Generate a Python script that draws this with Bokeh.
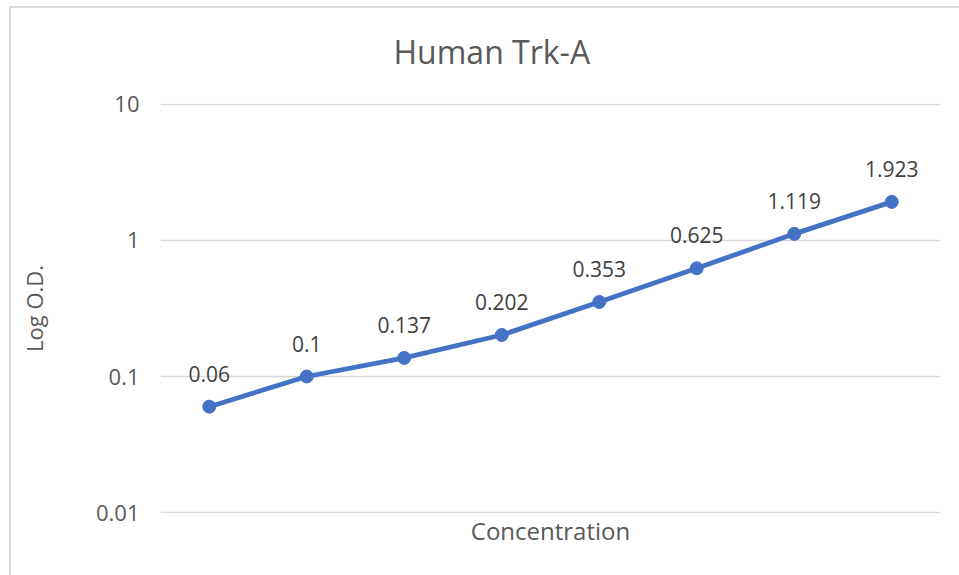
from bokeh.plotting import figure
from bokeh.layouts import column
from bokeh.models import FactorRange, FixedTicker, ColumnDataSource, Range1d
from bokeh.core.properties import value
from bokeh.embed import file_html
from bokeh.resources import INLINE

# ---- data ----
categories = ["1", "2", "3", "4", "5", "6", "7", "8"]
od_values = [0.06, 0.1, 0.137, 0.202, 0.353, 0.625, 1.119, 1.923]
y_ticks = [0.01, 0.1, 1, 10]
y_tick_labels = ["0.01", "0.1", "1", "10"]
title_text = "Human Trk-A"
x_title = "Concentration"
y_title = "Log O.D."

FONT = "Open Sans"
GRID = "#d9d9d9"
TXT = "#595959"
BLUE = "#4472c4"

src = ColumnDataSource(dict(x=categories, y=od_values,
                            lab=[str(v) for v in od_values]))

pad = 1 / 136.33  # one pixel of a decade, so edge gridlines are not clipped
p = figure(width=948, height=578, output_backend="svg", toolbar_location=None,
           x_range=FactorRange(*categories, range_padding=0),
           y_range=Range1d(10 ** (-2 - pad), 10 ** (1 + pad)), y_axis_type="log",
           min_border_left=149, min_border_right=19,
           min_border_top=106, min_border_bottom=62)
p.margin = (-11, 0, 0, 0)
p.outline_line_color = None
p.background_fill_color = "white"
p.border_fill_color = None

p.title.text = title_text
p.title.align = "left"
p.title.offset = 233
p.title.text_font = FONT
p.title.text_font_size = "32px"
p.title.text_font_style = "normal"
p.title.text_color = TXT
p.title.standoff = 61

# grid
p.xgrid.grid_line_color = None
p.ygrid.grid_line_color = GRID
p.ygrid.grid_line_width = 1.5
p.ygrid.minor_grid_line_color = None

# y axis
p.yaxis.ticker = FixedTicker(ticks=y_ticks, minor_ticks=[])
p.yaxis.major_label_overrides = {t: l for t, l in zip(y_ticks, y_tick_labels)}
p.yaxis.axis_line_color = None
p.yaxis.major_tick_line_color = None
p.yaxis.minor_tick_line_color = None
p.yaxis.major_label_standoff = 15
p.yaxis.major_label_text_font = FONT
p.yaxis.major_label_text_font_size = "22px"
p.yaxis.major_label_text_color = TXT
p.yaxis.axis_label = y_title
p.yaxis.axis_label_text_font = FONT
p.yaxis.axis_label_text_font_size = "22px"
p.yaxis.axis_label_text_font_style = "normal"
p.yaxis.axis_label_text_color = TXT
p.yaxis.axis_label_standoff = 44

# x axis
p.xaxis.ticker = FixedTicker(ticks=[])
p.xaxis.axis_line_color = None
p.xaxis.major_tick_line_color = None
p.xaxis.minor_tick_line_color = None
p.xaxis.major_label_standoff = 0
p.xaxis.axis_label = x_title
p.xaxis.axis_label_text_font = FONT
p.xaxis.axis_label_text_font_size = "24px"
p.xaxis.axis_label_text_font_style = "normal"
p.xaxis.axis_label_text_color = TXT
p.xaxis.axis_label_standoff = 0

# series
p.line("x", "y", source=src, line_color=BLUE, line_width=4.8)
p.scatter("x", "y", source=src, size=13, fill_color=BLUE, line_color=BLUE)
p.text("x", "y", text="lab", source=src, y_offset=-33,
       text_align="center", text_baseline="alphabetic",
       text_font=value(FONT), text_font_size="21px", text_color="#404040")

# chart-area border (left and top edges visible in the window)
layout = column(p, margin=(6, 0, 0, 9),
                styles={"border-left": f"2px solid {GRID}",
                        "border-top": f"2px solid {GRID}"})

open("out.html", "w").write(file_html(layout, INLINE))
